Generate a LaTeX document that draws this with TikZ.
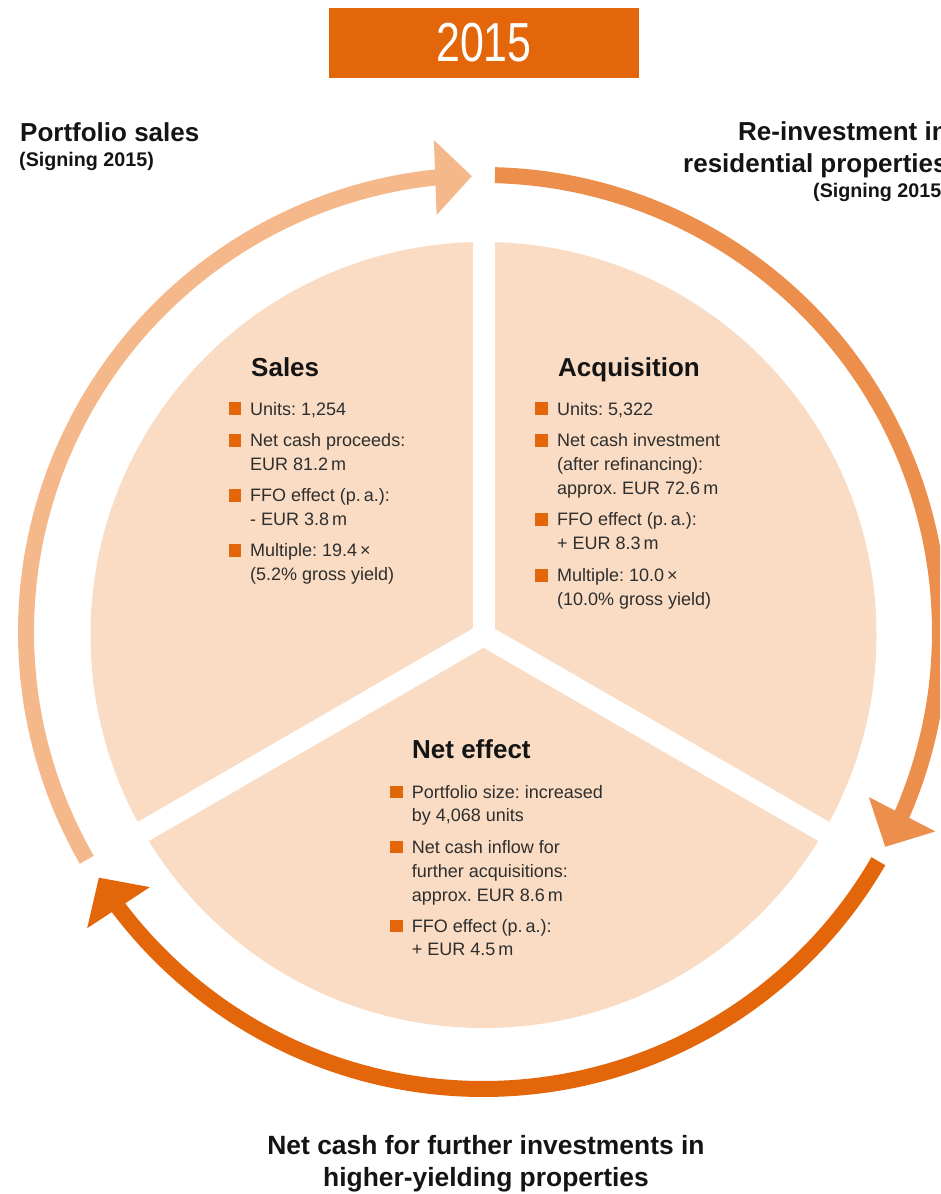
\documentclass[tikz,border=0pt]{standalone}
\usepackage{fontspec}
\setmainfont{Liberation Sans}
\usetikzlibrary{calc}
\definecolor{piefill}{HTML}{F9DCC3}
\definecolor{lightarr}{HTML}{F4B88A}
\definecolor{midarr}{HTML}{EC8E4C}
\definecolor{darkarr}{HTML}{E3660A}
\definecolor{txtgray}{HTML}{2E2E2E}
\definecolor{txtblack}{HTML}{141414}
\frenchspacing
\begin{document}
\begin{tikzpicture}[x=1pt,y=1pt,
  bigtitle/.style={font=\fontsize{26}{30}\selectfont\bfseries, text=txtblack, inner sep=0pt, anchor=base west},
  subtitle/.style={font=\fontsize{19.7}{24}\selectfont\bfseries, text=txtblack, inner sep=0pt, anchor=base west},
  bottomtitle/.style={font=\fontsize{26.4}{30}\selectfont\bfseries, text=txtblack, inner sep=0pt, anchor=base},
  sechead/.style={font=\fontsize{26}{30}\selectfont\bfseries, text=txtblack, inner sep=0pt, anchor=base west},
  itemline/.style={font=\fontsize{18}{23.5}\selectfont, text=txtgray, inner sep=0pt, anchor=base west},
  bulletsq/.style={fill=darkarr, draw=none, minimum size=12.5pt, inner sep=0pt, anchor=south west},
  ringband/.style={line width=16pt},
]
\useasboundingbox (0,0) rectangle (940,-1194);
\clip (0,0) rectangle (940,-1194);

% header
\node[fill=darkarr, minimum width=310pt, minimum height=70pt, inner sep=0pt,
      text=white, font=\fontsize{55}{60}\selectfont] (hdr) at (484,-43) {\scalebox{0.78}[1]{2015}};

% pie
\coordinate (P) at (483.5,-635);
\fill[piefill] (P) circle[radius=393];
\foreach \a in {90,210,330} \draw[white, line width=22pt] (P) -- ++(\a:400);

% ring arrows
\coordinate (C) at (483,-632);
% arrow 1: portfolio sales (light)
\draw[lightarr, ringband] ($(C)+(209.9:457)$) arc[start angle=209.9, end angle=95, radius=457];
\coordinate (a1b) at ($(C)+(96:457)$);
\coordinate (a1t) at ($(C)+(91.4:456)$);
\fill[lightarr] (a1t) -- ($(a1b)!37.5pt!90:(a1t)$) -- ($(a1b)!37.5pt!-90:(a1t)$) -- cycle;
% arrow 2: re-investment (medium)
\draw[midarr, ringband] ($(C)+(88.5:457)$) arc[start angle=88.5, end angle=-24.5, radius=457];
\coordinate (a2b) at ($(C)+(-23.5:457)$);
\coordinate (a2t) at ($(C)+(-28.1:456)$);
\fill[midarr] (a2t) -- ($(a2b)!37.5pt!90:(a2t)$) -- ($(a2b)!37.5pt!-90:(a2t)$) -- cycle;
% arrow 3: net cash (dark)
\draw[darkarr, ringband] ($(C)+(-30.1:457)$) arc[start angle=-30.1, end angle=-144, radius=457];
\coordinate (a3b) at ($(C)+(-142.9:457)$);
\coordinate (a3t) at ($(C)+(-147.4:456)$);
\fill[darkarr] (a3t) -- ($(a3b)!37.5pt!90:(a3t)$) -- ($(a3b)!37.5pt!-90:(a3t)$) -- cycle;

% outer titles
\node[bigtitle] (pst1) at (20,-141) {Portfolio sales};
\node[subtitle] (pst2) at (19,-166) {(Signing 2015)};
\node[bigtitle] (rit1) at (738,-140) {Re-investment in};
\node[bigtitle] (rit2) at (683,-172) {residential properties};
\node[subtitle] (rit3) at (813,-197) {(Signing 2015)};
\node[bottomtitle] (bt1) at (486,-1154) {Net cash for further investments in};
\node[bottomtitle] (bt2) at (486,-1186) {higher-yielding properties};

% Sales
\node[sechead] (hsales) at (251,-376) {Sales};
\foreach \t/\y [count=\i] in {{Units: 1,254}/415, {Net cash proceeds:}/446.7, {EUR 81.2\,m}/470,
   {FFO effect (p.\,a.):}/501.7, {- EUR 3.8\,m}/525, {Multiple: 19.4\,×}/556.7, {(5.2\% gross yield)}/580}
  \node[itemline] (sl\i) at (250,-\y) {\t};
\foreach \y [count=\i] in {415, 446.7, 501.7, 556.7}
  \node[bulletsq] (sb\i) at (228.5,-\y) {};

% Acquisition
\node[sechead] (hacq) at (558,-376) {Acquisition};
\foreach \t/\y [count=\i] in {{Units: 5,322}/415, {Net cash investment}/446.7, {(after refinancing):}/470.5,
   {approx. EUR 72.6\,m}/494, {FFO effect (p.\,a.):}/525.7, {+ EUR 8.3\,m}/549.3,
   {Multiple: 10.0\,×}/581.7, {(10.0\% gross yield)}/605}
  \node[itemline] (al\i) at (557,-\y) {\t};
\foreach \y [count=\i] in {415, 446.7, 525.7, 581.7}
  \node[bulletsq] (ab\i) at (535,-\y) {};

% Net effect
\node[sechead] (hnet) at (412,-758) {Net effect};
\foreach \t/\y [count=\i] in {{Portfolio size: increased}/798.3, {by 4,068 units}/821.7,
   {Net cash inflow for}/853.3, {further acquisitions:}/877.3, {approx. EUR 8.6\,m}/901,
   {FFO effect (p.\,a.):}/932.3, {+ EUR 4.5\,m}/955.7}
  \node[itemline] (nl\i) at (411.7,-\y) {\t};
\foreach \y [count=\i] in {798.3, 853.3, 932.3}
  \node[bulletsq] (nb\i) at (390,-\y) {};
\end{tikzpicture}
\end{document}
